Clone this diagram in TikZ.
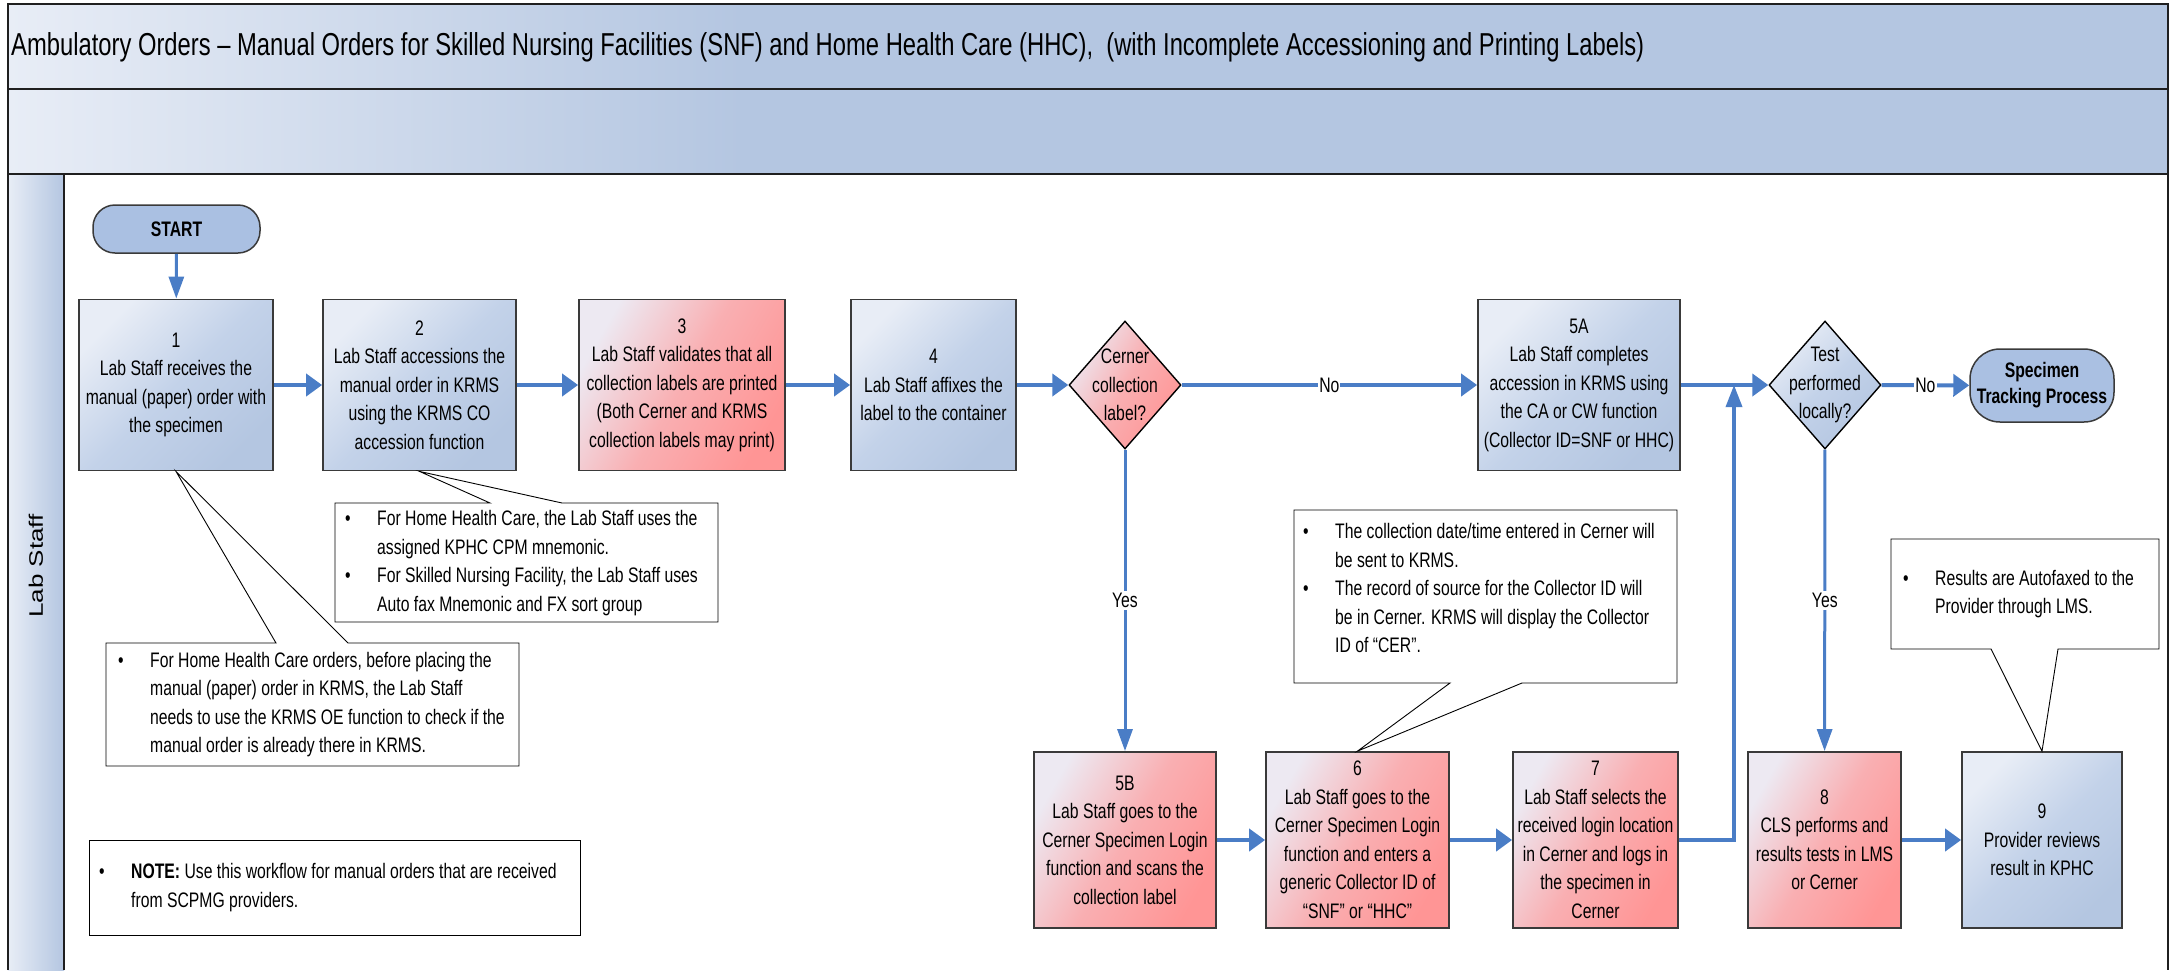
\documentclass[tikz,border=0pt]{standalone}
\usepackage{fontspec}
\setmainfont{Liberation Sans}[FakeStretch=0.75]
\newfontfamily\lanefont{Liberation Sans}
\usepackage{graphicx}
\usetikzlibrary{arrows.meta,shapes.geometric,calc}
\definecolor{bluelight}{HTML}{E8EDF6}
\definecolor{bluemid}{HTML}{C3D2E9}
\definecolor{bluedark}{HTML}{B4C6E1}
\definecolor{redlight}{HTML}{EDE9F2}
\definecolor{redmid}{HTML}{F9AFB2}
\definecolor{reddark}{HTML}{FF9595}
\definecolor{termblue}{HTML}{AAC0E2}
\definecolor{arrowblue}{HTML}{4A7DC6}
\definecolor{framecol}{HTML}{1F1F1F}
\definecolor{boxline}{HTML}{3A3A3A}
\pgfdeclarehorizontalshading{bandshade}{100bp}{color(0bp)=(bluelight); color(25bp)=(bluelight); color(42bp)=(bluedark); color(100bp)=(bluedark)}
\newcommand{\bl}{\makebox[32pt][l]{\textbullet}}
\begin{document}
\begin{tikzpicture}[x=1pt,y=-1pt,
  base/.style={font=\fontsize{21}{28.5}\selectfont, align=center, inner sep=0pt},
  bluebox/.style={base, rectangle, draw=boxline, line width=1.8pt, top color=bluelight, bottom color=bluedark, middle color=bluemid, shading angle=45},
  redbox/.style={base, rectangle, draw=boxline, line width=1.8pt, top color=redlight, bottom color=reddark, middle color=redmid, shading angle=60},
  row1/.style={minimum height=171pt},
  row2/.style={minimum height=176pt},
  term/.style={base, rectangle, draw=boxline, line width=1.5pt, fill=termblue, font=\fontsize{21}{26}\selectfont\bfseries},
  decision/.style={diamond, draw=black, line width=1.4pt, minimum width=112pt, minimum height=128pt, inner sep=0pt},
  hflow/.style={draw=arrowblue, line width=4pt, -{Triangle[length=16pt,width=22pt]}},
  vflow/.style={draw=arrowblue, line width=3pt, -{Triangle[length=22pt,width=15pt]}},
  lbl/.style={base, fill=white, inner xsep=1pt, inner ysep=2pt},
  callout/.style={draw=black, line width=0.9pt, fill=white},
  ctext/.style={font=\fontsize{21}{28.5}\selectfont, inner sep=0pt, anchor=west},
  framel/.style={draw=framecol, line width=2pt}
]
\useasboundingbox (0,0) rectangle (2177,970);
% swimlane frame
\fill[shading=bandshade] (8,4) rectangle (2168,89);
\fill[shading=bandshade] (8,89) rectangle (2168,174);
\fill[left color=bluelight, right color=bluedark] (8,174) rectangle (64,970);
\draw[framel] (8,970) -- (8,4) -- (2168,4) -- (2168,970);
\draw[framel] (8,89) -- (2168,89);
\draw[framel] (8,174) -- (2168,174);
\draw[framel] (64,174) -- (64,970);
\node[anchor=west, inner sep=0pt, font=\fontsize{31.7}{34}\selectfont] (title) at (11,47) {Ambulatory Orders -- Manual Orders for Skilled Nursing Facilities (SNF) and Home Health Care (HHC), \ (with Incomplete Accessioning and Printing Labels)};
\node[rotate=90, inner sep=0pt] (lane) at (36,566) {\scalebox{1}[0.75]{\lanefont\fontsize{26}{28}\selectfont Lab Staff}};

% row 1
\node[term, minimum width=167pt, minimum height=48pt, rounded corners=22pt] (start) at (176.5,229) {START};
\node[bluebox, row1, minimum width=194pt] (b1) at (176,385) {1\\Lab Staff receives the\\manual (paper) order with\\the specimen};
\node[bluebox, row1, minimum width=193pt] (b2) at (419.5,385) {2\\Lab Staff accessions the\\manual order in KRMS\\using the KRMS CO\\accession function};
\node[redbox, row1, minimum width=206pt] (b3) at (682,385) {3\\Lab Staff validates that all\\collection labels are printed\\(Both Cerner and KRMS\\collection labels may print)};
\node[bluebox, row1, minimum width=165pt] (b4) at (933.5,385) {4\\Lab Staff affixes the\\label to the container};
\node[decision, top color=redlight, bottom color=reddark, middle color=redmid, shading angle=60] (d1) at (1125,385) {};
\node[base] (d1t) at (d1.center) {Cerner\\collection\\label?};
\node[bluebox, row1, minimum width=202pt] (b5a) at (1579,385) {5A\\Lab Staff completes\\accession in KRMS using\\the CA or CW function\\(Collector ID=SNF or HHC)};
\node[decision, top color=bluelight, bottom color=bluedark, middle color=bluemid, shading angle=45] (d2) at (1825,385) {};
\node[base] (d2t) at (d2.center) {Test\\performed\\locally?};
\node[term, minimum width=144pt, minimum height=73pt, rounded corners=30pt] (spec) at (2042,385.5) {Specimen\\Tracking Process};

% row 2
\node[redbox, row2, minimum width=182pt] (b5b) at (1125,840) {5B\\Lab Staff goes to the\\Cerner Specimen Login\\function and scans the\\collection label};
\node[redbox, row2, minimum width=183pt] (b6) at (1357.5,840) {6\\Lab Staff goes to the\\Cerner Specimen Login\\function and enters a\\generic Collector ID of\\``SNF'' or ``HHC''};
\node[redbox, row2, minimum width=165pt] (b7) at (1595.5,840) {7\\Lab Staff selects the\\received login location\\in Cerner and logs in\\the specimen in\\Cerner};
\node[redbox, row2, minimum width=153pt] (b8) at (1824.5,840) {8\\CLS performs and\\results tests in LMS\\or Cerner};
\node[bluebox, row2, minimum width=160pt] (b9) at (2042,840) {9\\Provider reviews\\result in KPHC};

\coordinate (join) at (1734,385);

% connectors
\draw[vflow] (start) -- (b1);
\draw[hflow] (b1) -- (b2);
\draw[hflow] (b2) -- (b3);
\draw[hflow] (b3) -- (b4);
\draw[hflow] (b4) -- (d1);
\draw[hflow] (d1) -- node[lbl] (no1) {No} (b5a);
\draw[vflow] (d1) -- node[lbl] (yes1) {Yes} (b5b);
\draw[hflow] (b5a) -- (d2);
\draw[hflow] (b5b) -- (b6);
\draw[hflow] (b6) -- (b7);
\draw[draw=arrowblue, line width=3.5pt, -{Triangle[length=22pt,width=16pt]}] (b7.east) -| (join);
\draw[hflow] (d2) -- node[lbl] (no2) {No} (spec);
\draw[vflow] (d2) -- node[lbl] (yes2) {Yes} (b8);
\draw[hflow] (b8) -- (b9);

% callouts
\draw[callout] (106,643) -- (276,643) -- (b1.south) -- (348,643) -- (519,643) -- (519,766) -- (106,766) -- cycle;
\node[ctext] (c1) at (106,704.5) {\begin{tabular}{@{\hspace{12pt}}l@{}l@{}}\bl & For Home Health Care orders, before placing the\\ & manual (paper) order in KRMS, the Lab Staff\\ & needs to use the KRMS OE function to check if the\\ & manual order is already there in KRMS.\end{tabular}};

\draw[callout] (335,503) -- (490,503) -- (b2.south) -- (562,503) -- (718,503) -- (718,622) -- (335,622) -- cycle;
\node[ctext] (c2) at (335,563) {\begin{tabular}{@{\hspace{10pt}}l@{}l@{}}\bl & For Home Health Care, the Lab Staff uses the\\ & assigned KPHC CPM mnemonic.\\ \bl & For Skilled Nursing Facility, the Lab Staff uses\\ & Auto fax Mnemonic and FX sort group\end{tabular}};

\draw[callout] (1294,510) -- (1677,510) -- (1677,683) -- (1522,683) -- (b6.north) -- (1450,683) -- (1294,683) -- cycle;
\node[ctext] (c6) at (1294,590) {\begin{tabular}{@{\hspace{9pt}}l@{}l@{}}\bl & The collection date/time entered in Cerner will\\ & be sent to KRMS.\\ \bl & The record of source for the Collector ID will\\ & be in Cerner. KRMS will display the Collector\\ & ID of ``CER''.\end{tabular}};

\draw[callout] (1891,539) -- (2159,539) -- (2159,649) -- (2058,649) -- (b9.north) -- (1991,649) -- (1891,649) -- cycle;
\node[ctext] (c9) at (1891,594) {\begin{tabular}{@{\hspace{12pt}}l@{}l@{}}\bl & Results are Autofaxed to the\\ & Provider through LMS.\end{tabular}};

\draw[callout] (89,840) rectangle (580,935);
\node[ctext] (note) at (89,887.5) {\begin{tabular}{@{\hspace{10pt}}l@{}l@{}}\bl & \textbf{NOTE:} Use this workflow for manual orders that are received\\ & from SCPMG providers.\end{tabular}};
\end{tikzpicture}
\end{document}
